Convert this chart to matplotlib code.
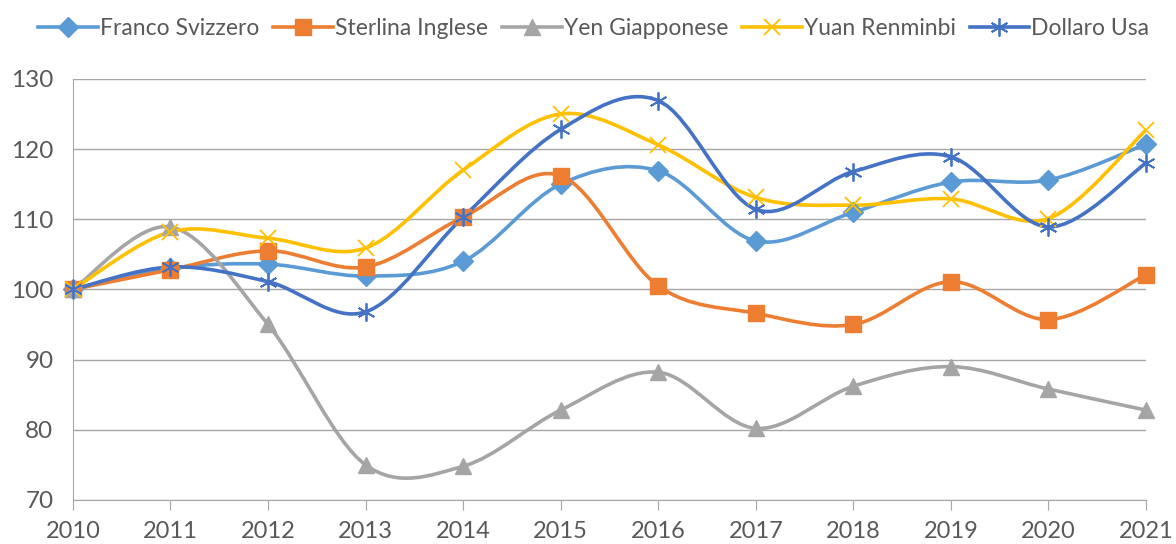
import numpy as np
import matplotlib
matplotlib.use("Agg")
from matplotlib import pyplot as plt
from matplotlib.path import Path
from matplotlib.patches import PathPatch
from matplotlib.lines import Line2D

plt.rcParams['font.family'] = ['Lato', 'DejaVu Sans']

years = [2010, 2011, 2012, 2013, 2014, 2015, 2016, 2017, 2018, 2019, 2020, 2021]
franco = [100, 103.0, 103.6, 101.9, 104.0, 115.0, 116.9, 106.9, 111.0, 115.3, 115.6, 120.7]
sterlina = [100, 102.8, 105.5, 103.2, 110.3, 116.2, 100.5, 96.6, 95.0, 101.1, 95.7, 102.1]
yen = [100, 108.9, 95.0, 75.0, 74.8, 82.8, 88.2, 80.2, 86.2, 89.0, 85.8, 82.8]
yuan = [100, 108.2, 107.3, 105.9, 117.0, 125.0, 120.6, 113.1, 112.0, 112.9, 110.1, 122.7]
dollaro = [100, 103.2, 101.1, 96.8, 110.3, 122.8, 126.9, 111.4, 116.8, 118.9, 108.9, 118.0]

series = [
    ("Franco Svizzero", franco, "#5B9BD5", "D", 10, 1.0),
    ("Sterlina Inglese", sterlina, "#ED7D31", "s", 11, 1.0),
    ("Yen Giapponese", yen, "#A5A5A5", "^", 11, 1.0),
    ("Yuan Renminbi", yuan, "#FFC000", "x", 11, 1.3),
    ("Dollaro Usa", dollaro, "#4472C4", (6, 2, 0), 13, 1.3),
]


def smooth_path(x, y):
    # bezier segments like the spreadsheet "smoothed line" option
    p = np.column_stack([x, y]).astype(float)
    n = len(p)
    verts = [p[0]]
    codes = [Path.MOVETO]
    for i in range(n - 1):
        prev = p[i - 1] if i > 0 else p[i]
        nxt = p[i + 2] if i + 2 < n else p[i + 1]
        c1 = p[i] + (p[i + 1] - prev) / 6
        c2 = p[i + 1] - (nxt - p[i]) / 6
        verts += [c1, c2, p[i + 1]]
        codes += [Path.CURVE4] * 3
    return Path(verts, codes)


fig = plt.figure(figsize=(11.76, 5.44), dpi=100)
ax = fig.add_axes([0.062, 0.081, 0.9125, 0.774])

handles = []
for label, vals, color, marker, ms, mew in series:
    ax.add_patch(PathPatch(smooth_path(years, vals), fill=False, edgecolor=color,
                           lw=2.6, zorder=3, capstyle='round'))
    ax.plot(years, vals, linestyle='none', marker=marker, markersize=ms,
            color=color, markeredgecolor=color, markeredgewidth=mew, zorder=4,
            clip_on=False)
    handles.append(Line2D([], [], color=color, lw=2.6, marker=marker, markersize=ms,
                          markeredgewidth=mew, label=label))

ax.set_xlim(2010, 2021)
ax.set_ylim(70, 130)
ax.set_xticks(years)
ax.set_yticks(range(70, 131, 10))
ax.yaxis.grid(True, color="#A6A6A6", lw=1.0)
ax.set_axisbelow(True)
for s in ["top", "right"]:
    ax.spines[s].set_visible(False)
ax.spines["bottom"].set_color("#A6A6A6")
ax.spines["left"].set_color("#A6A6A6")
ax.tick_params(axis='x', direction='out', length=7, color="#A6A6A6",
               labelsize=17, labelcolor="#595959", pad=8)
ax.tick_params(axis='y', length=0, labelsize=17.5, labelcolor="#595959", pad=14)

fig.legend(handles=handles, loc="upper center", bbox_to_anchor=(0.505, 1.005), ncol=5,
           frameon=False, fontsize=16.5, labelcolor="#595959", handlelength=2.6,
           handletextpad=0.1, columnspacing=0.6)

fig.savefig("out.png", dpi=100)
